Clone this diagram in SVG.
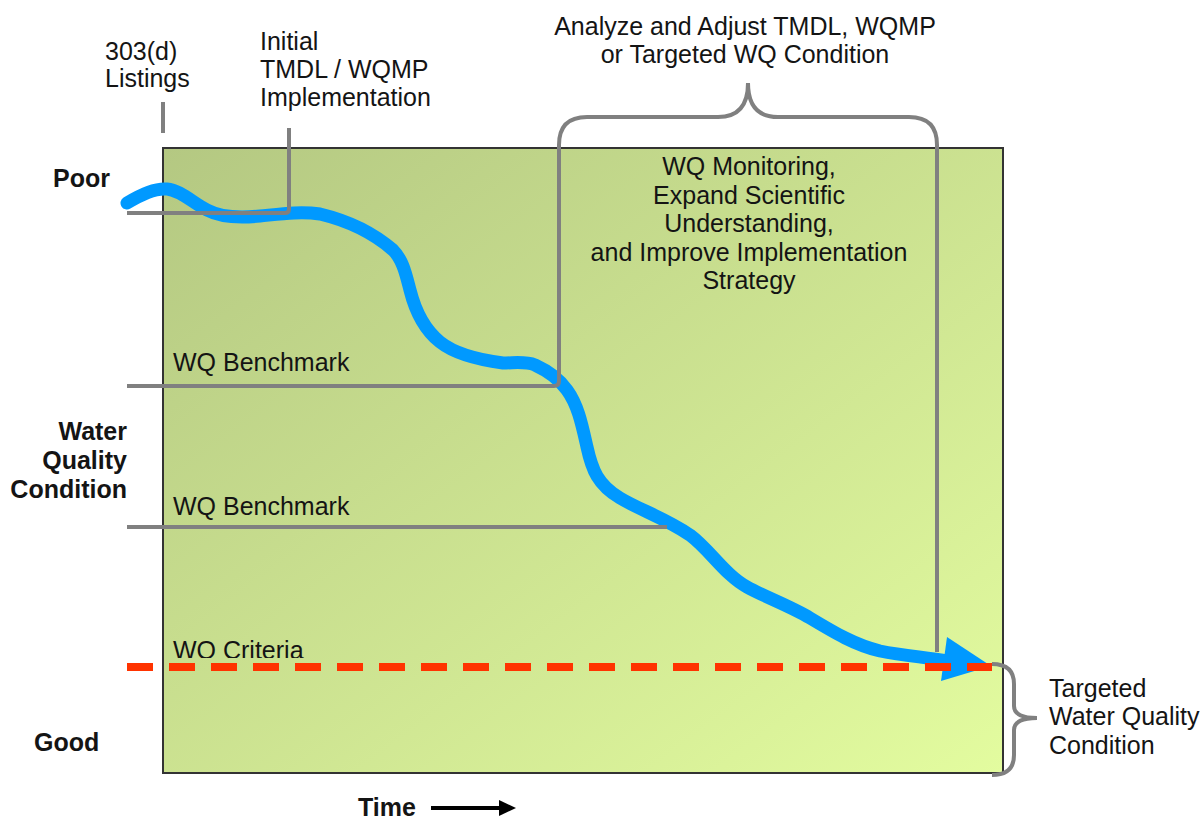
<svg xmlns="http://www.w3.org/2000/svg" width="1203" height="819" viewBox="0 0 1203 819">
<defs>
<linearGradient id="bg" x1="0" y1="0" x2="1" y2="1">
<stop offset="0" stop-color="#b4c882"/>
<stop offset="1" stop-color="#e3fc9f"/>
</linearGradient>
<clipPath id="critClip"><rect x="160" y="600" width="300" height="58"/></clipPath>
<style>
.t{font-family:"Liberation Sans",Arial,sans-serif;font-size:25px;fill:#141414}
.b{font-weight:bold}
.g{fill:none;stroke:#808080;stroke-width:4}
.m{text-anchor:middle}
.e{text-anchor:end}
</style>
</defs>
<rect width="1203" height="819" fill="#ffffff"/>
<g id="plot">
<rect x="163" y="148" width="840" height="625" fill="url(#bg)" stroke="#333333" stroke-width="2"/>
</g>
<g id="axis-labels">
<text class="t b" x="53" y="187">Poor</text>
<text class="t b e" x="127" y="440">Water</text>
<text class="t b e" x="127" y="469">Quality</text>
<text class="t b e" x="127" y="498">Condition</text>
<text class="t b" x="34" y="751">Good</text>
<text class="t b" x="358" y="816">Time</text>
<line x1="431" y1="808" x2="502" y2="808" stroke="#000" stroke-width="4"/>
<polygon points="516,808 499,800 499,816" fill="#000"/>
</g>
<g id="trend">
<path d="M127,203 C140,195 155,188 167,189 C180,190 192,202 207,210 C220,217 240,218 260,216 C280,214 300,211 320,214 C345,220 370,230 393,250 C403,260 406,275 410,290 C415,310 425,330 440,342 C455,354 480,360 503,363 C515,363 525,361 535,365 C548,371 560,380 567,390 C578,405 582,425 587,447 C592,470 598,485 620,498 C640,510 665,518 690,535 C710,550 725,575 747,587 C765,597 790,606 810,618 C835,633 855,645 880,651 C905,656 925,657 948,661" fill="none" stroke="#0099ff" stroke-width="13" stroke-linecap="round" stroke-linejoin="round"/>
<polygon points="991,666 947,637 941,681" fill="#0099ff"/>
</g>
<g id="connectors">
<line class="g" x1="163" y1="102" x2="163" y2="133"/>
<path class="g" d="M289,128 L289,209 Q289,213 285,213 L127,213"/>
<path class="g" d="M127,386 L554,386 Q559,386 559,381 L559,145 Q559,117 587,117 L718,117 Q748,117 748,83 Q748,117 778,117 L909,117 Q937,117 937,145 L937,652"/>
<line class="g" x1="127" y1="527" x2="667" y2="527"/>
<path class="g" d="M992,664 Q1014,664 1014,684 L1014,706 Q1014,718 1037,718 Q1014,718 1014,730 L1014,755 Q1014,775 992,775"/>
</g>
<g id="criteria">
<line x1="127" y1="667" x2="992" y2="667" stroke="#ff3300" stroke-width="8" stroke-dasharray="26 16"/>
<text class="t" x="173" y="659" clip-path="url(#critClip)">WQ Criteria</text>
</g>
<g id="benchmarks">
<text class="t" x="173" y="371">WQ Benchmark</text>
<text class="t" x="173" y="515">WQ Benchmark</text>
</g>
<g id="listings">
<text class="t" x="105" y="60">303(d)</text>
<text class="t" x="105" y="87">Listings</text>
</g>
<g id="initial">
<text class="t" x="260" y="50">Initial</text>
<text class="t" x="260" y="78">TMDL / WQMP</text>
<text class="t" x="260" y="106">Implementation</text>
</g>
<g id="analyze">
<text class="t m" x="745" y="35">Analyze and Adjust TMDL, WQMP</text>
<text class="t m" x="745" y="63">or Targeted WQ Condition</text>
</g>
<g id="monitoring">
<text class="t m" x="749" y="175">WQ Monitoring,</text>
<text class="t m" x="749" y="204">Expand Scientific</text>
<text class="t m" x="749" y="232">Understanding,</text>
<text class="t m" x="749" y="261">and Improve Implementation</text>
<text class="t m" x="749" y="289">Strategy</text>
</g>
<g id="targeted">
<text class="t" x="1049" y="697">Targeted</text>
<text class="t" x="1049" y="725">Water Quality</text>
<text class="t" x="1049" y="754">Condition</text>
</g>
</svg>
